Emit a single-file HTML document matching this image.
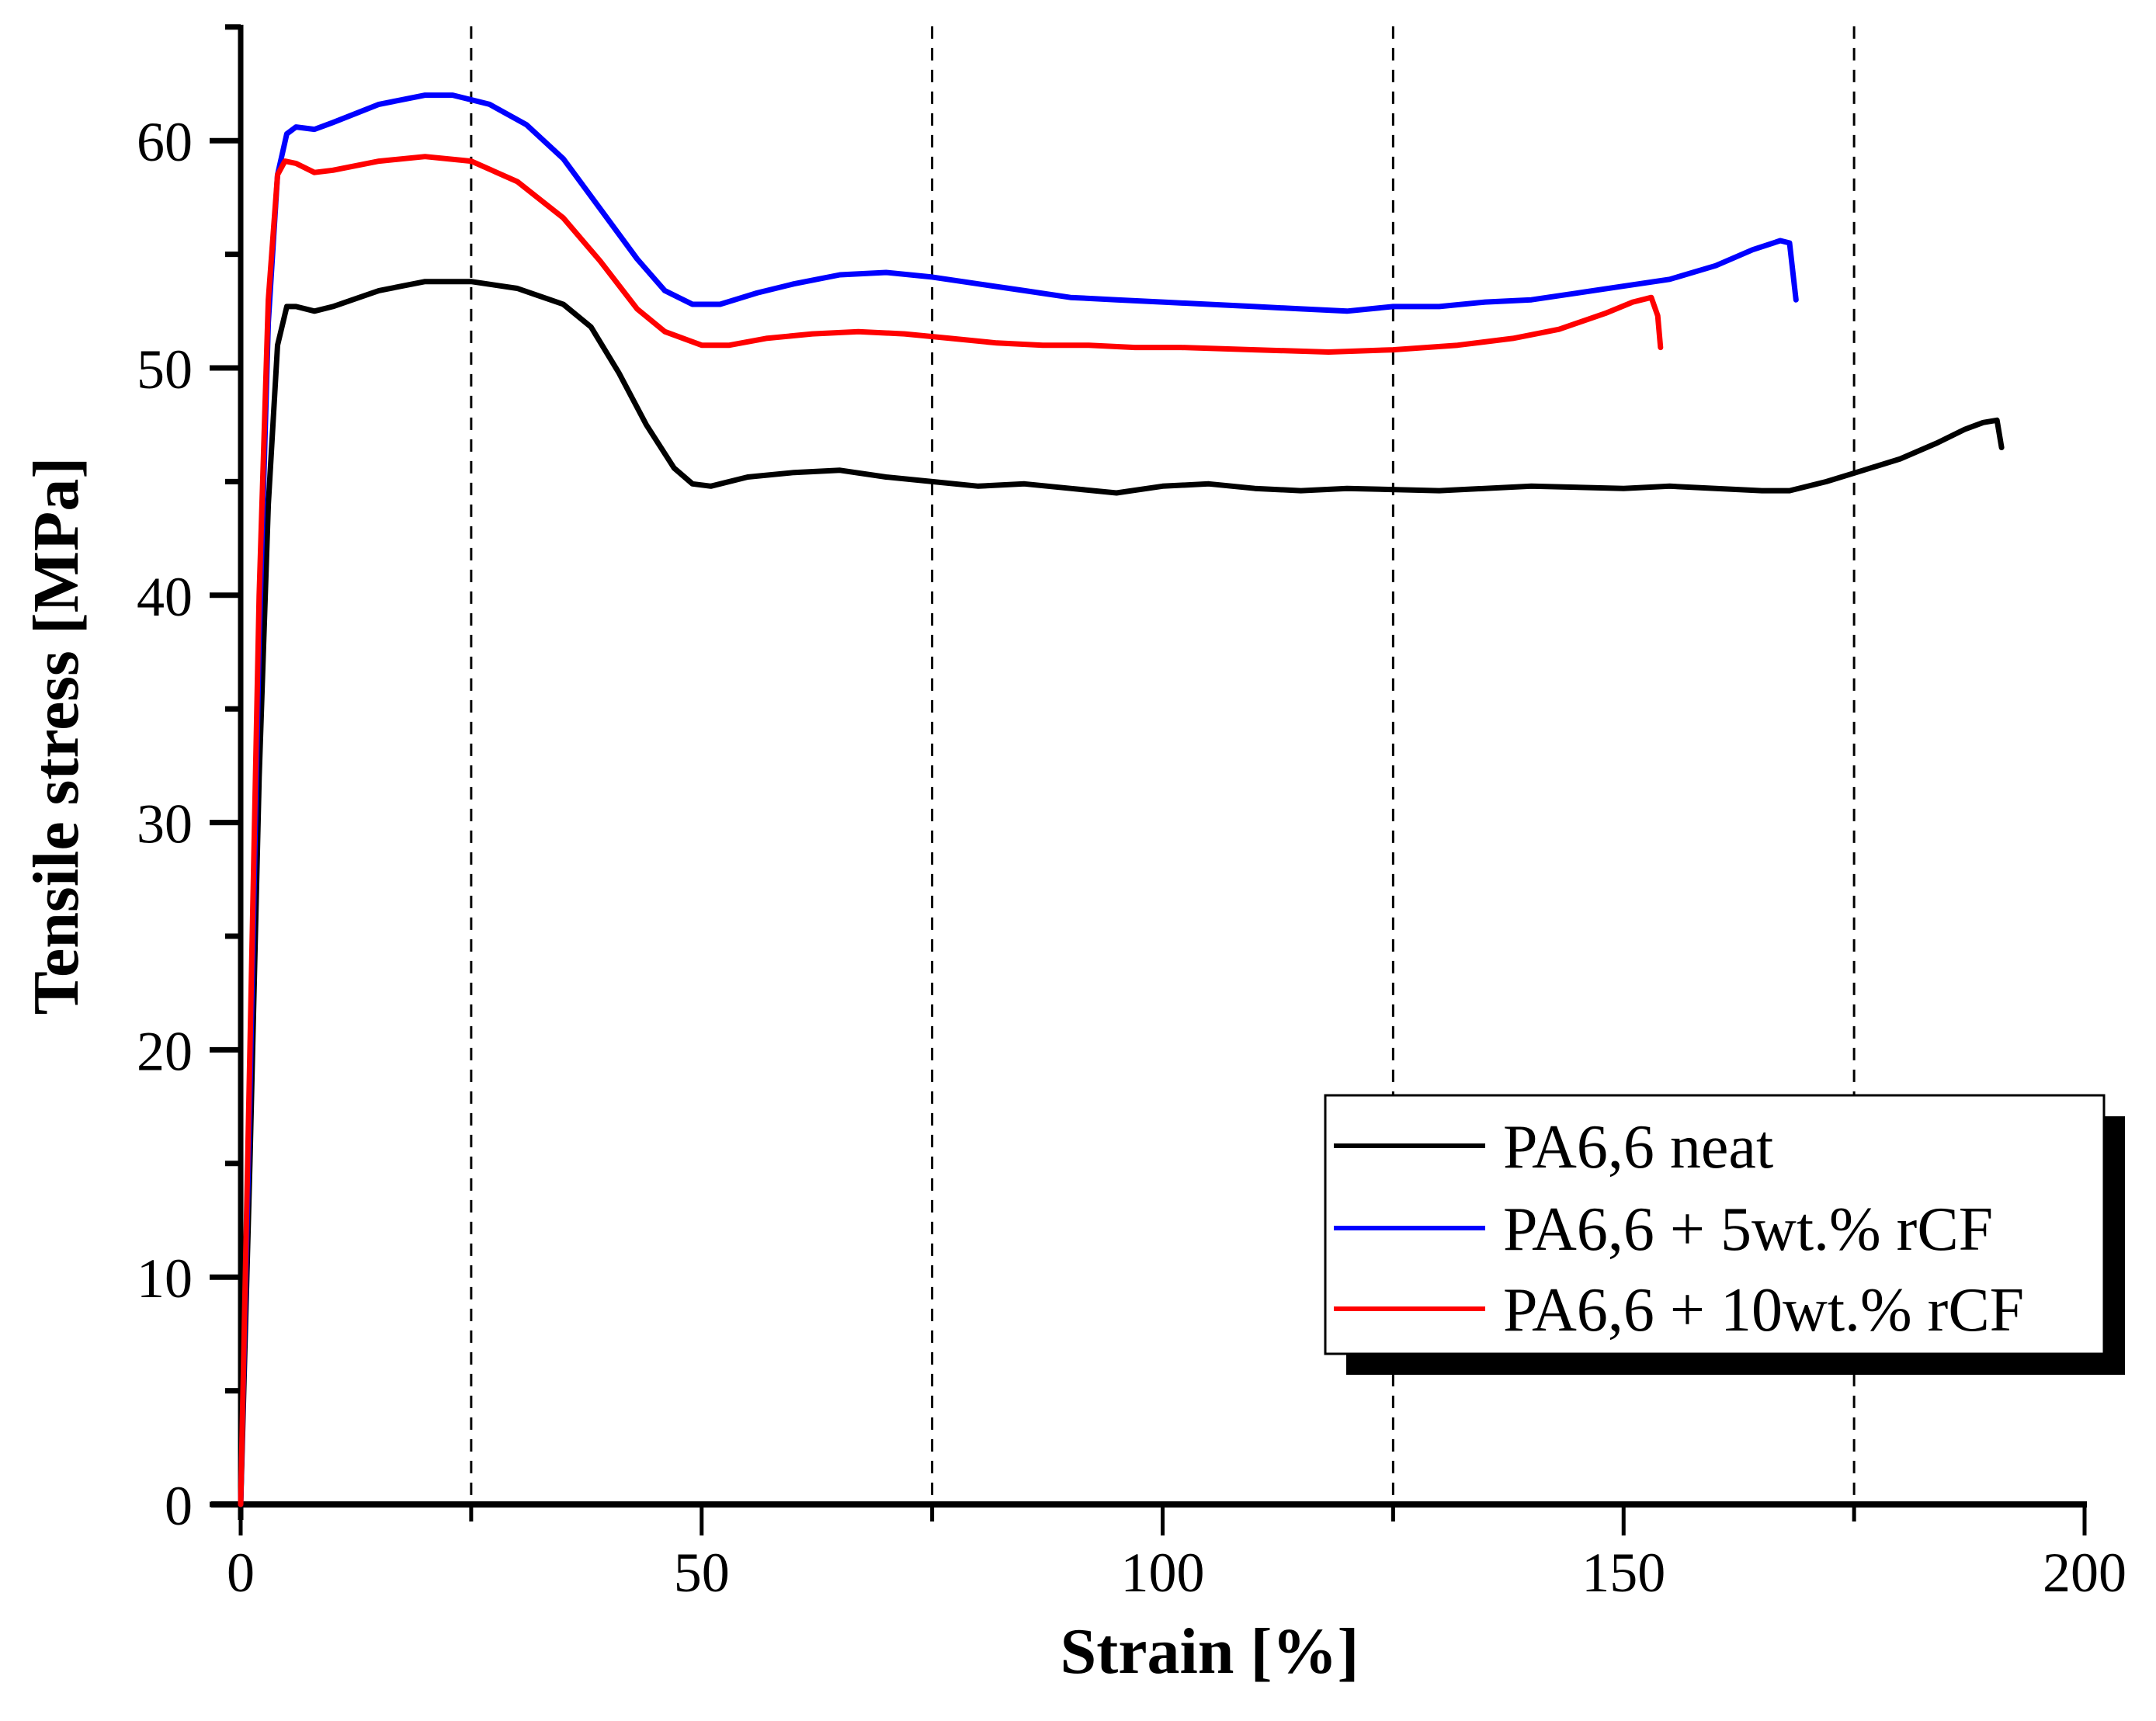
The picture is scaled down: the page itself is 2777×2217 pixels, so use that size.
<!DOCTYPE html>
<html><head><meta charset="utf-8"><style>
body{margin:0;background:#fff}
svg{display:block;font-family:"Liberation Serif",serif}
</style></head><body>
<svg id="chart" width="2777" height="2217" viewBox="0 0 2777 2217">
<g id="grid"></g><g id="axes"></g><g id="series"></g><g id="legend"></g>
<text x="1558" y="2155" font-size="84" font-weight="bold" text-anchor="middle">Strain [%]</text>
<text transform="translate(100,948) rotate(-90)" font-size="84" font-weight="bold" text-anchor="middle">Tensile stress [MPa]</text>
</svg>
<script>
const xTicks=[0,50,100,150,200];
const xMinor=[25,75,125,175];
const yTicks=[0,10,20,30,40,50,60];
const yMinor=[5,15,25,35,45,55,65];
const seriesNames=["PA6,6 neat","PA6,6 + 5wt.% rCF","PA6,6 + 10wt.% rCF"];
const seriesColors=["#000","#0000ff","#ff0000"];
const neatX=[0,1,2,3,4,5,6,8,10,15,20,25,30,35,38,41,44,47,49,51,55,60,65,70,75,80,85,90,95,100,105,110,115,120,130,140,150,155,160,165,168,172,176,180,184,187,189,190.5,191];
const neatY=[0,15,32,44,51,52.7,52.7,52.5,52.7,53.4,53.8,53.8,53.5,52.8,51.8,49.8,47.5,45.6,44.9,44.8,45.2,45.4,45.5,45.2,45.0,44.8,44.9,44.7,44.5,44.8,44.9,44.7,44.6,44.7,44.6,44.8,44.7,44.8,44.7,44.6,44.6,45.0,45.5,46.0,46.7,47.3,47.6,47.7,46.5];
const cf5X=[0,1,2,3,4,5,6,8,10,15,20,23,27,31,35,39,43,46,49,52,56,60,65,70,75,80,85,90,95,100,105,110,115,120,125,130,135,140,145,150,155,160,164,167,168,168.7];
const cf5Y=[0,18,38,52,58.5,60.3,60.6,60.5,60.8,61.6,62,62,61.6,60.7,59.2,57,54.8,53.4,52.8,52.8,53.3,53.7,54.1,54.2,54,53.7,53.4,53.1,53,52.9,52.8,52.7,52.6,52.5,52.7,52.7,52.9,53,53.3,53.6,53.9,54.5,55.2,55.6,55.5,53.0];
const cf10X=[0,1,2,3,4,4.8,6,8,10,15,20,25,30,35,39,43,46,50,53,57,62,67,72,77,82,87,92,97,102,110,118,125,132,138,143,148,151,153,153.7,154];
const cf10Y=[0,20,40,53,58.5,59.1,59,58.6,58.7,59.1,59.3,59.1,58.2,56.6,54.7,52.6,51.6,51.0,51.0,51.3,51.5,51.6,51.5,51.3,51.1,51,51,50.9,50.9,50.8,50.7,50.8,51,51.3,51.7,52.4,52.9,53.1,52.3,50.9];

const NS="http://www.w3.org/2000/svg";
const X0=310,X1=2685,Y0=1938,YMAX=65.1,PPU=29.28;
const sx=v=>X0+(v/200)*(X1-X0);
const sy=v=>Y0-v*PPU;
function mk(tag,attrs,parent){const e=document.createElementNS(NS,tag);for(const k in attrs)e.setAttribute(k,attrs[k]);parent.appendChild(e);return e;}
const grid=document.getElementById('grid'),axes=document.getElementById('axes'),ser=document.getElementById('series'),leg=document.getElementById('legend');
xMinor.forEach(v=>{const l=mk('line',{x1:sx(v),x2:sx(v),y1:sy(YMAX)+2,y2:Y0,stroke:'#000','stroke-width':3,'stroke-dasharray':'16,12'},grid);

});
let a=mk('line',{x1:X0,x2:X0,y1:sy(YMAX),y2:Y0+20,stroke:'#000','stroke-width':7},axes);


a=mk('line',{x1:X0-38,x2:X1+3,y1:Y0,y2:Y0,stroke:'#000','stroke-width':8},axes);


xTicks.forEach(v=>{mk('line',{x1:sx(v),x2:sx(v),y1:Y0,y2:Y0+40,stroke:'#000','stroke-width':5},axes);
const t=mk('text',{x:sx(v),y:Y0+112,'font-size':72,'text-anchor':'middle'},axes);t.textContent=v;

});
xMinor.forEach(v=>mk('line',{x1:sx(v),x2:sx(v),y1:Y0,y2:Y0+22,stroke:'#000','stroke-width':5},axes));
yTicks.forEach(v=>{mk('line',{x1:X0-40,x2:X0,y1:sy(v),y2:sy(v),stroke:'#000','stroke-width':7},axes);
const t=mk('text',{x:X0-62,y:sy(v)+26,'font-size':72,'text-anchor':'end'},axes);t.textContent=v;

});
yMinor.forEach(v=>mk('line',{x1:X0-20,x2:X0,y1:sy(v),y2:sy(v),stroke:'#000','stroke-width':7},axes));
const data=[[neatX,neatY],[cf5X,cf5Y],[cf10X,cf10Y]];
const ids=['series-neat','series-5wt-rcf','series-10wt-rcf'];
data.forEach((d,i)=>{const pts=d[0].map((x,j)=>sx(x).toFixed(1)+','+sy(d[1][j]).toFixed(1)).join(' ');
const p=mk('polyline',{points:pts,fill:'none',stroke:seriesColors[i],'stroke-width':7,'stroke-linejoin':'round','stroke-linecap':'round'},ser);

});
mk('rect',{x:1734,y:1438,width:1003,height:333,fill:'#000'},leg);
const lb=mk('rect',{x:1707,y:1411,width:1003,height:333,fill:'#fff',stroke:'#000','stroke-width':3},leg);


const ly=[1476,1582,1686];
seriesNames.forEach((n,i)=>{mk('line',{x1:1718,x2:1913,y1:ly[i],y2:ly[i],stroke:seriesColors[i],'stroke-width':6},leg);
const t=mk('text',{x:1936,y:ly[i]+28,'font-size':80},leg);t.textContent=n;

});
</script>
</body></html>
